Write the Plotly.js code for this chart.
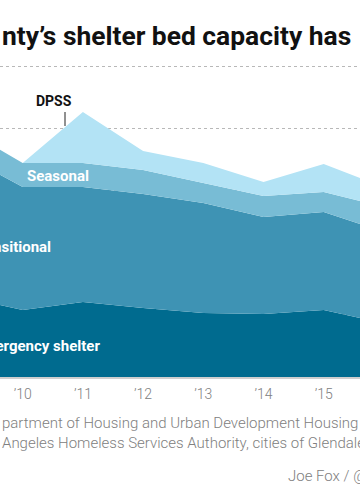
<!DOCTYPE html>
<html>
<head>
<meta charset="utf-8">
<script src="https://cdn.plot.ly/plotly-3.0.1.min.js"></script>
<style>html,body{margin:0;padding:0;background:#fff;}#chart{width:360px;height:504px;}</style>
</head>
<body>
<div id="chart"></div>
<script>
// Data (beds)
var years = [2009, 2010, 2011, 2012, 2013, 2014, 2015, 2016];
var emergency = [6460, 5390, 6030, 5550, 5150, 5070, 5390, 4330];
var transitional = [11390, 9890, 9240, 9160, 8840, 7790, 7870, 7340];
var seasonal = [2150, 1930, 1930, 1930, 1610, 1690, 1610, 2000];
var dpss = [0, 0, 4100, 1530, 1610, 1130, 2250, 1590];
var tickYears = [2010, 2011, 2012, 2013, 2014, 2015];
var tickLabels = ["’10", "’11", "’12", "’13", "’14", "’15"];

var W = 360, H = 504, plotTop = 60, plotBottom = 377;
var yMax = 25000 * (plotBottom - plotTop) / (plotBottom - 66);
function px(x) { return x / W; }
function py(y) { return (plotBottom - y) / (plotBottom - plotTop); }

function layer(name, vals, color) {
  return {
    x: years, y: vals, name: name, type: 'scatter', mode: 'lines',
    stackgroup: 'one', line: {width: 0, color: color}, fillcolor: color,
    hoverinfo: 'skip'
  };
}

var traces = [
  layer('Emergency shelter', emergency, '#006b8f'),
  layer('Transitional', transitional, '#3e93b4'),
  layer('Seasonal', seasonal, '#78bcd5'),
  layer('DPSS', dpss, '#b3e3f5')
];

var sans = 'Roboto, "Noto Sans", sans-serif';
var layout = {
  width: W, height: H,
  margin: {l: 0, r: 0, t: plotTop, b: H - plotBottom, pad: 0},
  paper_bgcolor: '#fff', plot_bgcolor: '#fff',
  showlegend: false,
  xaxis: {
    range: [2009.623, 2015.603], tickvals: tickYears, ticktext: tickLabels,
    showgrid: false, zeroline: false, showline: true, linecolor: '#cfcfcf', linewidth: 2,
    ticks: '', ticklabelstandoff: 3,
    tickfont: {family: sans, size: 14, color: '#808080', weight: 300}
  },
  yaxis: {
    range: [0, yMax], tickvals: [5000, 10000, 15000, 20000, 25000], showticklabels: false, showgrid: true,
    gridcolor: '#b8b8b8', griddash: 'dot', gridwidth: 1, zeroline: false, showline: false, ticks: ''
  },
  shapes: [
    {type: 'line', xref: 'paper', yref: 'paper', x0: px(65), x1: px(65), y0: py(112), y1: py(126),
     line: {color: '#222', width: 1}}
  ],
  annotations: [
    {text: '<b>nty’s shelter bed capacity has</b>', xref: 'paper', yref: 'paper', x: px(0), y: py(36),
     xanchor: 'left', yanchor: 'middle', showarrow: false,
     font: {family: sans, size: 26.4, color: '#111'}},
    {text: '<b>DPSS</b>', xref: 'paper', yref: 'paper', x: px(54), y: py(101),
     xanchor: 'center', yanchor: 'middle', showarrow: false,
     font: {family: sans, size: 14, color: '#111'}},
    {text: '<b>Seasonal</b>', xref: 'paper', yref: 'paper', x: px(25), y: py(176),
     xanchor: 'left', yanchor: 'middle', showarrow: false,
     font: {family: sans, size: 15, color: '#fff'}},
    {text: '<b>Transitional</b>', xref: 'paper', yref: 'paper', x: px(53), y: py(247),
     xanchor: 'right', yanchor: 'middle', showarrow: false,
     font: {family: sans, size: 15, color: '#fff'}},
    {text: '<b>Emergency shelter</b>', xref: 'paper', yref: 'paper', x: px(102), y: py(346),
     xanchor: 'right', yanchor: 'middle', showarrow: false,
     font: {family: sans, size: 15, color: '#fff'}},
    {text: 'partment of Housing and Urban Development Housing Inventory<br>Angeles Homeless Services Authority, cities of Glendale, Pasadena',
     xref: 'paper', yref: 'paper', x: px(0), y: py(433), xanchor: 'left', yanchor: 'middle',
     align: 'left', showarrow: false,
     font: {family: sans, size: 15, color: '#808080', weight: 300}},
    {text: 'Joe Fox / @latimesgraphics', xref: 'paper', yref: 'paper', x: px(286), y: py(476),
     xanchor: 'left', yanchor: 'middle', showarrow: false,
     font: {family: sans, size: 15, color: '#808080', weight: 300}}
  ]
};

Plotly.newPlot('chart', traces, layout, {displayModeBar: false, staticPlot: true});
</script>
</body>
</html>
